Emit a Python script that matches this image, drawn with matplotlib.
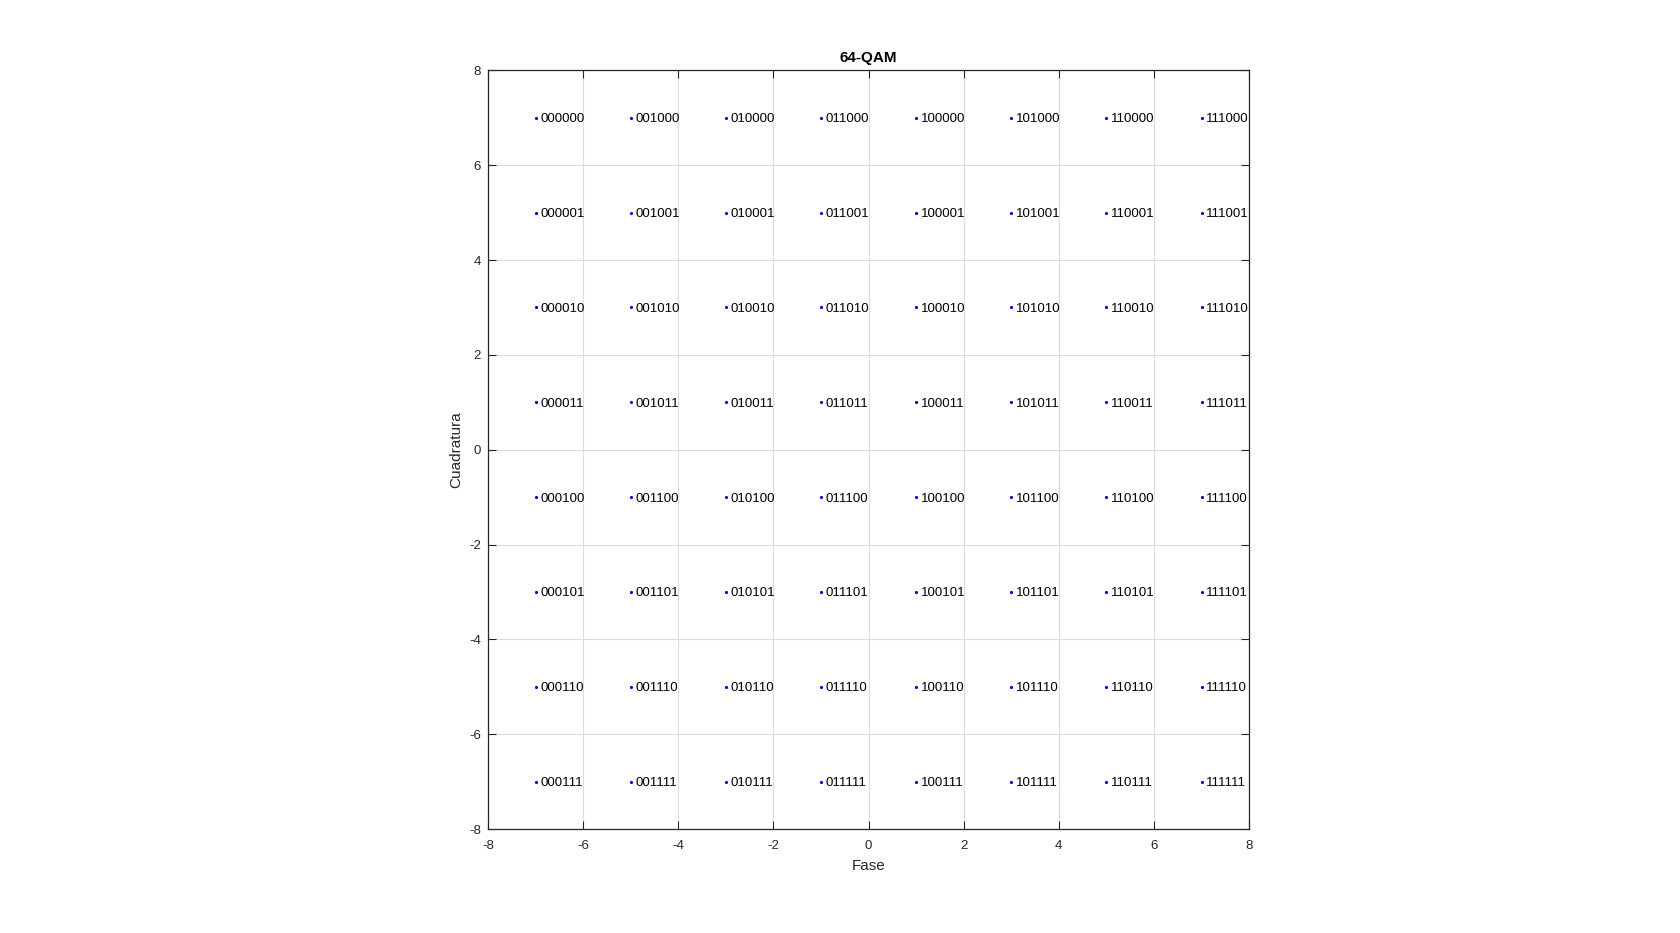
import numpy as np
import matplotlib
matplotlib.use('Agg')
import matplotlib.pyplot as plt

# constellation levels on each axis and the bit groups mapped to them
fase_levels = [-7, -5, -3, -1, 1, 3, 5, 7]
cuad_levels = [7, 5, 3, 1, -1, -3, -5, -7]
fase_bits = ['000', '001', '010', '011', '100', '101', '110', '111']
cuad_bits = ['000', '001', '010', '011', '100', '101', '110', '111']

plt.rcParams['font.family'] = ['Liberation Sans', 'DejaVu Sans']
plt.rcParams['axes.unicode_minus'] = False

fig = plt.figure(figsize=(16.8, 9.33), dpi=100)
ax = fig.add_axes([0.2905, 0.1113, 0.4530, 0.8133])

#grid of points, label each one with its 6 bits
for xi, bx in zip(fase_levels, fase_bits):
    for yi, by in zip(cuad_levels, cuad_bits):
        ax.plot(xi, yi, '.', color='#0000cc', markersize=2.5)
        ax.text(xi + 0.1, yi - 0.03, bx + by, fontsize=9.5, va='center', ha='left', color='black')

ax.set_xlim(-8, 8)
ax.set_ylim(-8, 8)
ax.set_xticks(np.arange(-8, 9, 2))
ax.set_yticks(np.arange(-8, 9, 2))
ax.grid(True, color='#dcdcdc', linewidth=0.8)
ax.set_axisbelow(True)
ax.tick_params(direction='in', top=True, right=True, length=6, labelsize=9.5, colors='#262626')
ax.tick_params(axis='x', pad=8)
ax.tick_params(axis='y', pad=5)
for s in ax.spines.values():
    s.set_color('#262626')
    s.set_linewidth(0.9)

ax.set_title('64-QAM', fontsize=11, fontweight='bold', pad=6)
ax.set_xlabel('Fase', fontsize=11, color='#262626', labelpad=5)
ax.set_ylabel('Cuadratura', fontsize=11, color='#262626')

fig.savefig('out.png', dpi=100, facecolor='white')
